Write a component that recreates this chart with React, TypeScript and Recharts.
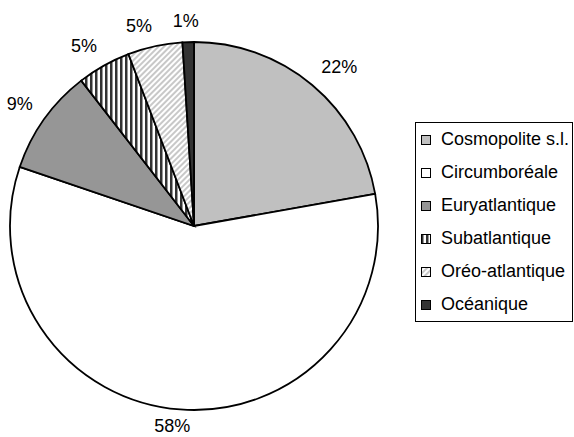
import React from 'react';
import { PieChart, Pie, Cell, Legend } from 'recharts';

const categories = ['Cosmopolite s.l.', 'Circumboréale', 'Euryatlantique', 'Subatlantique', 'Oréo-atlantique', 'Océanique'];
const values = [22.2, 58.0, 9.3, 4.7, 4.8, 1.0];
const fills = ['#c0c0c0', '#ffffff', '#969696', 'url(#subStripes)', 'url(#oreoHatch)', '#333333'];

const data = categories.map((name, i) => ({ name, value: values[i] }));

const FONT = '"Liberation Sans", Arial, sans-serif';
const RAD = Math.PI / 180;

const soft = (t: number) => Math.sign(t) * Math.min(1, Math.abs(t) / 0.2);

const renderLabel = (props: any) => {
  const { cx, cy, midAngle, outerRadius, percent } = props;
  const text = `${Math.round(percent * 100)}%`;
  const w = text.length === 3 ? 36 : 26;
  const h = 14;
  const dx = Math.cos(-midAngle * RAD);
  const dy = Math.sin(-midAngle * RAD);
  const r = outerRadius + 14;
  const x = cx + r * dx + (w / 2) * soft(dx);
  const y = Math.min(cy + r * dy + (h / 2) * soft(dy), 426);
  return (
    <text
      x={x}
      y={y}
      textAnchor="middle"
      dominantBaseline="central"
      fill="#000"
      fontSize={18}
      fontFamily={FONT}
    >
      {text}
    </text>
  );
};

const renderLegend = () => (
  <div
    style={{
      border: '1px solid #000',
      width: 158,
      height: 200,
      boxSizing: 'border-box',
      background: '#fff',
      fontFamily: FONT,
      fontSize: 18,
      color: '#000',
    }}
  >
    {categories.map((c, i) => (
      <div key={c} style={{ height: 33, display: 'flex', alignItems: 'center', whiteSpace: 'nowrap' }}>
        <svg width={10} height={10} style={{ marginLeft: 5, marginRight: 10, flex: 'none' }}>
          <rect x={0.5} y={0.5} width={9} height={9} fill={fills[i]} stroke="#000" strokeWidth={1} />
        </svg>
        <span>{c}</span>
      </div>
    ))}
  </div>
);

export default function App() {
  return (
    <div style={{ position: 'absolute', left: 0, top: 0, width: 574, height: 437, background: '#fff' }}>
      <PieChart width={574} height={437} margin={{ top: 0, right: 0, bottom: 0, left: 0 }}>
        <defs>
          <pattern id="subStripes" patternUnits="userSpaceOnUse" width={5} height={5}>
            <rect width={5} height={5} fill="#ffffff" />
            <rect width={2.5} height={5} fill="#333333" />
          </pattern>
          <pattern id="oreoHatch" patternUnits="userSpaceOnUse" width={4} height={4} patternTransform="rotate(45)">
            <rect width={4} height={4} fill="#ffffff" />
            <rect width={2} height={4} fill="#c8c8c8" />
          </pattern>
        </defs>
        <Pie
          data={data}
          dataKey="value"
          nameKey="name"
          cx={194}
          cy={226}
          outerRadius={184}
          startAngle={90}
          endAngle={-270}
          stroke="#000"
          strokeWidth={1.8}
          label={renderLabel}
          labelLine={false}
          isAnimationActive={false}
        >
          {data.map((d, i) => (
            <Cell key={d.name} fill={fills[i]} stroke="#000" strokeWidth={1.8} />
          ))}
        </Pie>
        <Legend
          layout="vertical"
          align="right"
          verticalAlign="middle"
          content={renderLegend}
          wrapperStyle={{ left: 415, top: 122, right: 'auto', bottom: 'auto', width: 158 }}
        />
      </PieChart>
    </div>
  );
}
